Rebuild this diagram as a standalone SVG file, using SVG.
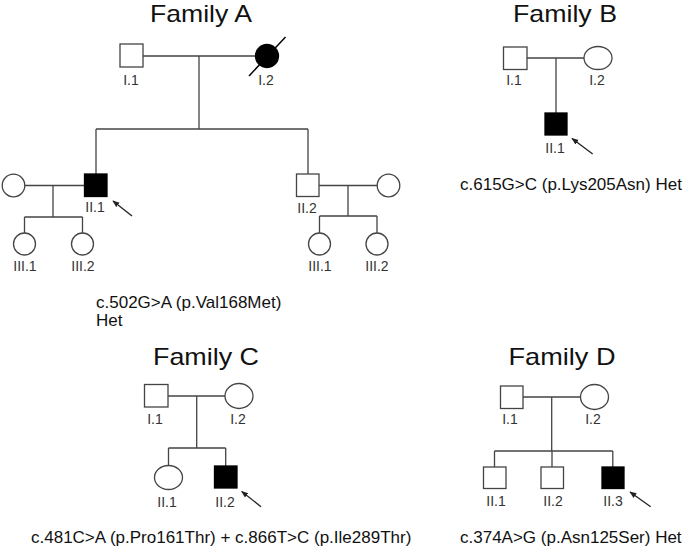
<svg xmlns="http://www.w3.org/2000/svg" width="685" height="551" viewBox="0 0 685 551">
<style>
.title{font-family:"Liberation Sans",Arial,sans-serif;font-size:24px;fill:#111;text-anchor:middle}
.lbl{font-family:"Liberation Sans",Arial,sans-serif;font-size:14px;fill:#333;text-anchor:middle}
.var{font-family:"Liberation Sans",Arial,sans-serif;font-size:17px;fill:#111}
.ln{stroke:#444;stroke-width:1.3;fill:none}
.m{fill:#fff;stroke:#444;stroke-width:1.3}
.a{fill:#000;stroke:#000;stroke-width:1.3}
.arr{stroke:#222;stroke-width:1.3;fill:none;marker-end:url(#ah)}
</style>
<defs>
<marker id="ah" viewBox="0 0 10 10" refX="9" refY="5" markerWidth="7" markerHeight="7" orient="auto" markerUnits="userSpaceOnUse">
<path d="M0,1 L10,5 L0,9 z" fill="#222"/>
</marker>
</defs>
<rect width="685" height="551" fill="#fff"/>

<g id="connectors">
<!-- Family A -->
<path class="ln" d="M143,56 H256 M199,56 V129 M96,129 H308 M96,129 V174 M308,129 V174"/>
<path class="ln" d="M25,185.5 H84 M53,185.5 V217 M24.5,217 H82.5 M24.5,217 V233 M82.5,217 V233"/>
<path class="ln" d="M319,185.5 H377 M348,185.5 V216 M319.5,216 H377 M319.5,216 V233 M377,216 V233"/>
<!-- Family B -->
<path class="ln" d="M527,58 H584 M556,58 V113"/>
<!-- Family C -->
<path class="ln" d="M168,396 H225 M196.7,396 V448 M168.5,448 H225.7 M168.5,448 V465.5 M225.7,448 V466"/>
<!-- Family D -->
<path class="ln" d="M523,397 H580.5 M551.7,397 V451 M494.5,451 H612.8 M494.5,451 V467 M552,451 V467 M612.8,451 V467"/>
<!-- proband arrows -->
<path class="arr" d="M132,216 L113,201"/>
<path class="arr" d="M592.7,154 L572,138.5"/>
<path class="arr" d="M261,506.7 L241.7,491.5"/>
<path class="arr" d="M650.7,506.7 L630,492"/>
</g>

<g id="familyA">
<text class="title" x="201" y="22" textLength="102" lengthAdjust="spacingAndGlyphs">Family A</text>
<g id="A-I1"><rect class="m" x="120" y="44" width="23" height="23"/><text class="lbl" x="131" y="85">I.1</text></g>
<g id="A-I2"><circle class="a" cx="267" cy="56" r="11.5"/><line x1="249" y1="76" x2="285.5" y2="37" stroke="#000" stroke-width="1.5"/><text class="lbl" x="266" y="85">I.2</text></g>
<g id="A-II1"><rect class="a" x="84.5" y="174" width="22.5" height="22.5"/><text class="lbl" x="95" y="212">II.1</text></g>
<g id="A-II1sp"><circle class="m" cx="13.5" cy="185.5" r="11.3"/></g>
<g id="A-II1-III1"><circle class="m" cx="24.5" cy="244" r="11"/><text class="lbl" x="25" y="271">III.1</text></g>
<g id="A-II1-III2"><circle class="m" cx="82.5" cy="244" r="11"/><text class="lbl" x="83" y="271">III.2</text></g>
<g id="A-II2"><rect class="m" x="296.5" y="174" width="22.5" height="22.5"/><text class="lbl" x="307" y="213">II.2</text></g>
<g id="A-II2sp"><circle class="m" cx="388.5" cy="185.5" r="11.3"/></g>
<g id="A-II2-III1"><circle class="m" cx="319.5" cy="244" r="11"/><text class="lbl" x="320" y="271">III.1</text></g>
<g id="A-II2-III2"><circle class="m" cx="377" cy="244" r="11"/><text class="lbl" x="377" y="271">III.2</text></g>
<text class="var" x="96" y="308">c.502G&gt;A (p.Val168Met)</text>
<text class="var" x="96" y="326">Het</text>
</g>

<g id="familyB">
<text class="title" x="565" y="22" textLength="104" lengthAdjust="spacingAndGlyphs">Family B</text>
<g id="B-I1"><rect class="m" x="503.5" y="47" width="23.5" height="22.5"/><text class="lbl" x="514" y="85">I.1</text></g>
<g id="B-I2"><ellipse class="m" cx="598" cy="58" rx="14" ry="11.5"/><text class="lbl" x="597" y="85">I.2</text></g>
<g id="B-II1"><rect class="a" x="545" y="113" width="22" height="22"/><text class="lbl" x="555" y="153">II.1</text></g>
<text class="var" x="460" y="190">c.615G&gt;C (p.Lys205Asn) Het</text>
</g>

<g id="familyC">
<text class="title" x="206" y="365" textLength="106" lengthAdjust="spacingAndGlyphs">Family C</text>
<g id="C-I1"><rect class="m" x="144.5" y="384.5" width="23.5" height="22.5"/><text class="lbl" x="155" y="424">I.1</text></g>
<g id="C-I2"><ellipse class="m" cx="239" cy="396" rx="14" ry="12.5"/><text class="lbl" x="238" y="424">I.2</text></g>
<g id="C-II1"><ellipse class="m" cx="168.5" cy="477.5" rx="14" ry="12"/><text class="lbl" x="167" y="507">II.1</text></g>
<g id="C-II2"><rect class="a" x="214.5" y="466" width="22.5" height="22"/><text class="lbl" x="225" y="507">II.2</text></g>
<text class="var" x="31" y="543">c.481C&gt;A (p.Pro161Thr) + c.866T&gt;C (p.Ile289Thr)</text>
</g>

<g id="familyD">
<text class="title" x="562" y="365" textLength="107" lengthAdjust="spacingAndGlyphs">Family D</text>
<g id="D-I1"><rect class="m" x="500.5" y="386" width="22.5" height="22.5"/><text class="lbl" x="510" y="424">I.1</text></g>
<g id="D-I2"><ellipse class="m" cx="594.5" cy="397" rx="14" ry="12.5"/><text class="lbl" x="593" y="424">I.2</text></g>
<g id="D-II1"><rect class="m" x="483.5" y="467" width="22.5" height="21.5"/><text class="lbl" x="496" y="506">II.1</text></g>
<g id="D-II2"><rect class="m" x="541" y="467" width="22.5" height="21.5"/><text class="lbl" x="553" y="506">II.2</text></g>
<g id="D-II3"><rect class="a" x="602" y="467" width="22" height="21.5"/><text class="lbl" x="613" y="506">II.3</text></g>
<text class="var" x="460" y="543">c.374A&gt;G (p.Asn125Ser) Het</text>
</g>
</svg>
